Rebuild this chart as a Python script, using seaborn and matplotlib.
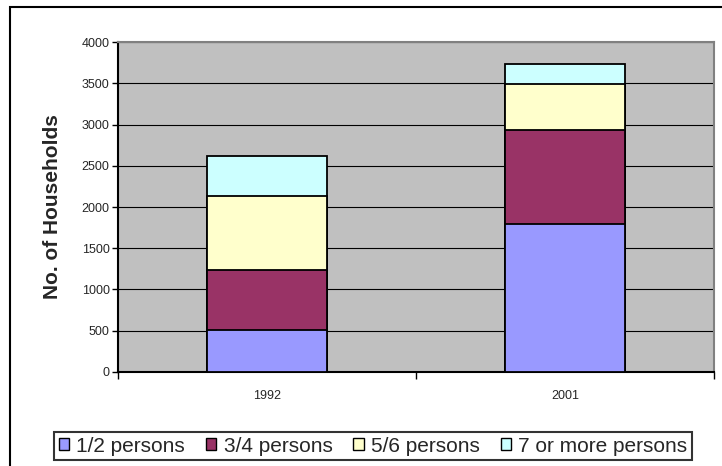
import pandas as pd
import numpy as np
import seaborn as sns
import matplotlib.pyplot as plt
from matplotlib.patches import Patch, Rectangle


years = ['1992', '2001']
series = ['1/2 persons', '3/4 persons', '5/6 persons', '7 or more persons']
p12 = [506, 1797]
p34 = [733, 1142]
p56 = [898, 558]
p7plus = [486, 240]
colors = ['#9999FF', '#993366', '#FFFFCC', '#CCFFFF']

sns.set_style('white')
plt.rcParams['font.family'] = ['Liberation Sans', 'DejaVu Sans']

df = pd.DataFrame({'year': years, series[0]: p12, series[1]: p34,
                   series[2]: p56, series[3]: p7plus})
# cumulative totals, drawn from the top segment down so each bar covers the next
cum = df[series].cumsum(axis=1)

fig = plt.figure(figsize=(7.22, 4.66), dpi=100)
ax = fig.add_axes([118 / 722, 1 - 371.7 / 466, 596 / 722, 329.4 / 466])
ax.set_facecolor('#C0C0C0')

for s, c in reversed(list(zip(series, colors))):
    sns.barplot(x=df['year'], y=cum[s], color=c, saturation=1, width=0.4,
                edgecolor='black', linewidth=1.3, ax=ax, zorder=3)

ax.set_ylim(0, 4000)
ax.set_xlim(-0.5, 1.5)
ax.set_yticks(np.arange(0, 4001, 500))
ax.yaxis.grid(True, color='black', linewidth=0.8, zorder=0)
ax.set_axisbelow(True)

ax.tick_params(axis='y', direction='out', length=4, width=1, labelsize=9,
               left=True, color='black', pad=2)
ax.tick_params(axis='x', which='major', length=0, labelsize=9, pad=13)
ax.set_xticks([-0.5, 0.5, 1.5], minor=True)
ax.tick_params(axis='x', which='minor', direction='out', length=5, width=1,
               bottom=True, color='black')

ax.set_xlabel('')
ax.set_ylabel('No. of Households', fontsize=15, fontweight='bold', labelpad=14)

for side in ['left', 'bottom']:
    ax.spines[side].set_color('black')
    ax.spines[side].set_linewidth(1.5)
for side in ['top', 'right']:
    ax.spines[side].set_color('#808080')
    ax.spines[side].set_linewidth(1.5)
    ax.spines[side].set_visible(True)

handles = [Patch(facecolor=c, edgecolor='black', linewidth=1) for c in colors]
leg = fig.legend(handles, series, loc='center', ncol=4,
                 bbox_to_anchor=(373 / 722, 1 - 446 / 466),
                 fontsize=15, frameon=True, fancybox=False,
                 handlelength=0.5, handleheight=0.5, handletextpad=0.35,
                 columnspacing=1.0, borderpad=0.2)
leg.get_frame().set_edgecolor('black')
leg.get_frame().set_linewidth(1.5)

# outer chart border
fig.patches.append(Rectangle((10 / 722, -0.1), 1, (466 - 7) / 466 + 0.1,
                             transform=fig.transFigure, fill=False,
                             edgecolor='black', linewidth=1.5))

plt.savefig('out.png', dpi=100)
